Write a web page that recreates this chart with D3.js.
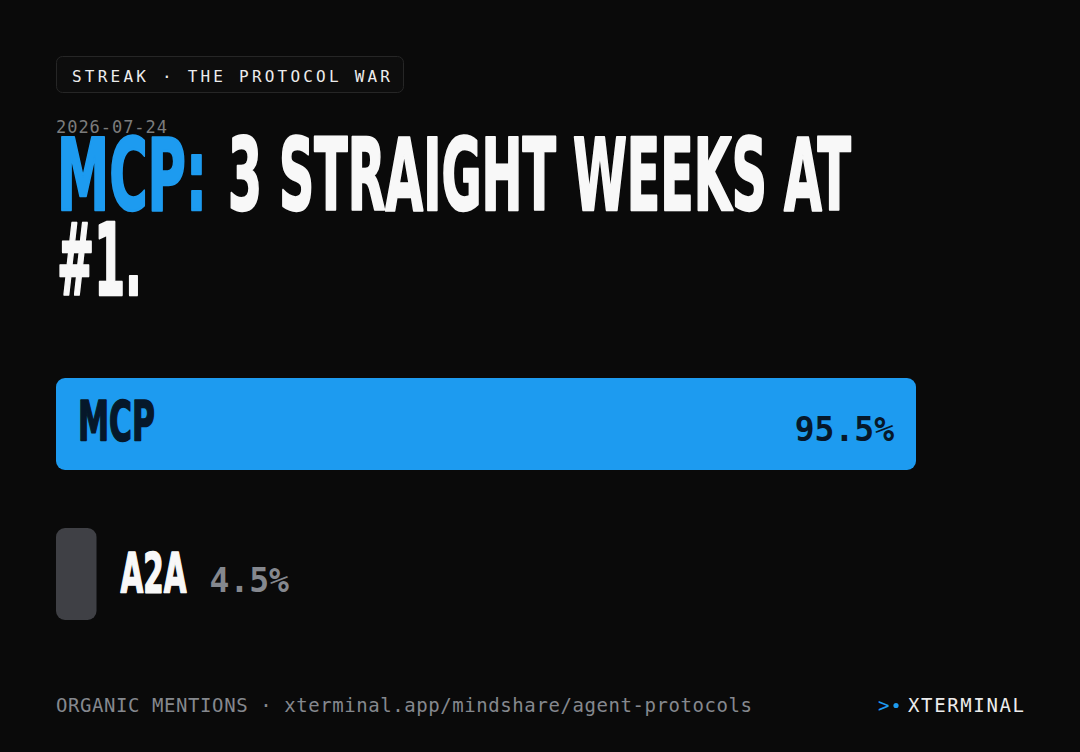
<!DOCTYPE html>
<html lang="en">
<head>
  <meta charset="UTF-8">
  <title>MCP streak</title>
  <script src="https://d3js.org/d3.v7.min.js"></script>
  <style>
    html, body { margin: 0; padding: 0; background: #0a0a0a; }
    svg { display: block; }
  </style>
</head>
<body>
  <svg id="chart" width="1080" height="752"></svg>

  <script>
    // data
    const protocols = ["MCP", "A2A"];
    const shares = [95.5, 4.5];
    const tagText = "STREAK · THE PROTOCOL WAR";
    const dateText = "2026-07-24";
    const footerText = "ORGANIC MENTIONS · xterminal.app/mindshare/agent-protocols";
    const brandText = "XTERMINAL";

    const svg = d3.select("#chart");
    const mono = "'DejaVu Sans Mono', 'Liberation Mono', monospace";
    const display = "'Liberation Sans Narrow', 'DejaVu Sans Condensed', 'Liberation Sans', sans-serif";
    const blue = "#1d9bf0";

    // squeeze a text horizontally to a given width (condensed display look)
    function squeeze(node, x, y, w) {
      const natural = node.getComputedTextLength();
      d3.select(node)
        .attr("x", 0).attr("y", 0)
        .attr("transform", `translate(${x},${y}) scale(${w / natural},1)`);
    }

    svg.append("rect").attr("width", 1080).attr("height", 752).attr("fill", "#0a0a0a");

    // tag pill
    svg.append("rect")
      .attr("x", 56.5).attr("y", 56.5)
      .attr("width", 347).attr("height", 36)
      .attr("rx", 6)
      .attr("fill", "#0d0d0d")
      .attr("stroke", "#262626");
    svg.append("text")
      .attr("x", 72).attr("y", 82)
      .attr("font-family", mono).attr("font-size", 16)
      .attr("fill", "#ececec")
      .attr("textLength", 318).attr("lengthAdjust", "spacing")
      .text(tagText);

    // date
    svg.append("text")
      .attr("x", 56).attr("y", 133)
      .attr("font-family", mono).attr("font-size", 17)
      .attr("fill", "#7c7c7c")
      .attr("textLength", 111).attr("lengthAdjust", "spacing")
      .text(dateText);

    // headline
    function headline(x, y, w, size, color, txt) {
      const t = svg.append("text")
        .attr("font-family", display).attr("font-weight", 700)
        .attr("font-size", size)
        .attr("fill", color).attr("stroke", color).attr("stroke-width", 2.4)
        .attr("stroke-linejoin", "round")
        .text(txt);
      squeeze(t.node(), x, y, w);
      return t;
    }
    headline(57, 210, 150, 99, blue, "MCP:");
    headline(228, 210, 623, 99, "#f8f8f8", "3 STRAIGHT WEEKS AT");
    headline(57, 295, 85, 99, "#f8f8f8", "#1.");

    // bars
    const x = d3.scaleLinear().domain([0, d3.max(shares)]).range([0, 860]);
    const y = d3.scaleBand().domain(protocols).range([378, 620]).paddingInner(58 / 150);
    const rows = protocols.map((p, i) => ({ name: p, value: shares[i], lead: i === 0 }));

    const g = svg.append("g").attr("transform", "translate(56,0)");

    g.selectAll(".bar")
      .data(rows)
      .enter().append("rect")
      .attr("class", "bar")
      .attr("x", 0)
      .attr("y", d => y(d.name))
      .attr("width", d => x(d.value))
      .attr("height", y.bandwidth())
      .attr("rx", 9)
      .attr("fill", d => d.lead ? blue : "#3f4045");

    // labels: inside for the leader, outside for the rest
    g.selectAll(".name")
      .data(rows)
      .enter().append("text")
      .attr("class", "name")
      .attr("font-family", display).attr("font-weight", 700)
      .attr("font-size", 55)
      .attr("fill", d => d.lead ? "#06182a" : "#f8f8f8")
      .attr("stroke", d => d.lead ? "#06182a" : "#f8f8f8")
      .attr("stroke-width", 1.6)
      .attr("stroke-linejoin", "round")
      .text(d => d.name)
      .each(function(d) {
        squeeze(this,
          d.lead ? 22 : x(d.value) + 24,
          y(d.name) + (d.lead ? 62 : 64),
          d.lead ? 77 : 66);
      });

    g.selectAll(".val")
      .data(rows)
      .enter().append("text")
      .attr("class", "val")
      .attr("x", d => d.lead ? x(d.value) - 22 : x(d.value) + 113)
      .attr("y", d => y(d.name) + (d.lead ? 63 : 64))
      .attr("text-anchor", d => d.lead ? "end" : "start")
      .attr("font-family", mono).attr("font-weight", 700)
      .attr("font-size", 33)
      .attr("fill", d => d.lead ? "#06182a" : "#85888e")
      .text(d => d.value.toFixed(1) + "%");

    // footer
    svg.append("text")
      .attr("x", 56).attr("y", 712)
      .attr("font-family", mono).attr("font-size", 19)
      .attr("fill", "#85888e")
      .attr("textLength", 696).attr("lengthAdjust", "spacing")
      .text(footerText);

    svg.append("text")
      .attr("x", 878).attr("y", 712)
      .attr("font-family", mono).attr("font-size", 19)
      .attr("fill", blue)
      .text(">");
    svg.append("circle")
      .attr("cx", 896).attr("cy", 705.5).attr("r", 2.6)
      .attr("fill", blue);
    svg.append("text")
      .attr("x", 908).attr("y", 712)
      .attr("font-family", mono).attr("font-size", 19)
      .attr("fill", "#ececec")
      .attr("textLength", 116).attr("lengthAdjust", "spacing")
      .text(brandText);
  </script>
</body>
</html>
